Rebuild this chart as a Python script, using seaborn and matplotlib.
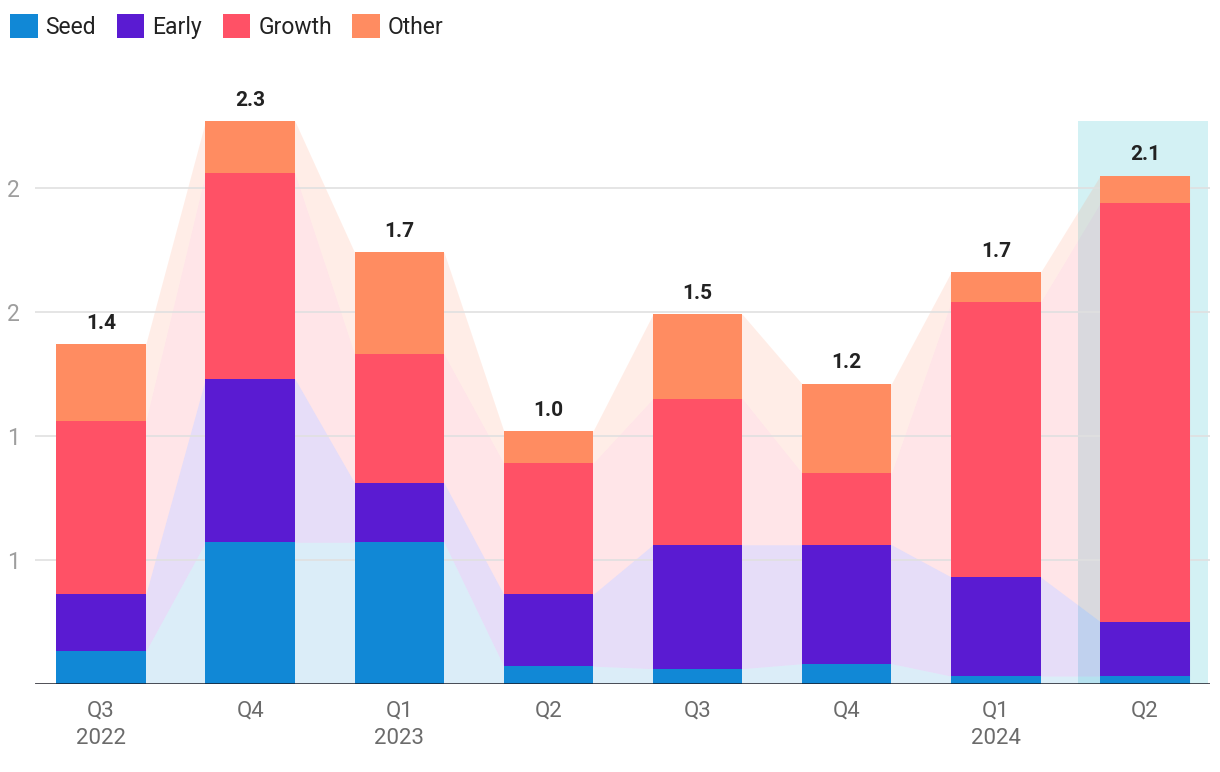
import numpy as np
import matplotlib
matplotlib.use("Agg")
import matplotlib.pyplot as plt
import seaborn as sns
from matplotlib.patches import Patch, Rectangle
from decimal import Decimal, ROUND_HALF_UP

# ---- data ----
quarters = ["Q3\n2022", "Q4", "Q1\n2023", "Q2", "Q3", "Q4", "Q1\n2024", "Q2"]
seed   = [0.13, 0.57, 0.57, 0.07, 0.06, 0.08, 0.03, 0.03]
early  = [0.23, 0.66, 0.24, 0.29, 0.50, 0.48, 0.40, 0.22]
growth = [0.70, 0.83, 0.52, 0.53, 0.59, 0.29, 1.11, 1.69]
other  = [0.31, 0.21, 0.41, 0.13, 0.34, 0.36, 0.12, 0.11]
series_names = ["Seed", "Early", "Growth", "Other"]
colors = ["#1188D6", "#5A1BD2", "#FF5166", "#FF8C61"]
y_ticks = [0.5, 1.0, 1.5, 2.0]
highlight_index = 7


def fmt(v, nd):
    q = Decimal(1).scaleb(-nd)
    return str(Decimal(str(round(v, 6))).quantize(q, rounding=ROUND_HALF_UP))


sns.set_theme(style="white")
plt.rcParams["font.family"] = ["Roboto", "DejaVu Sans"]

W, H = 1220, 772
fig = plt.figure(figsize=(W / 100, H / 100), dpi=100)
ax = fig.add_axes([35 / W, (H - 683.5) / H, 1175 / W, 607 / H])

layers = np.array([seed, early, growth, other])
cum = np.cumsum(layers, axis=0)
totals = cum[-1]
idx = np.arange(len(quarters))
bw = 0.6

# highlight band
ax.add_patch(Rectangle((highlight_index - 0.45, 0), 0.87, totals.max(),
                       facecolor="#D3F1F4", edgecolor="none", zorder=0))

# connecting stacked areas
xs = np.ravel([[i - bw / 2, i + bw / 2] for i in idx])
lower = np.zeros(len(idx))
for k in range(len(series_names)):
    ax.fill_between(xs, np.repeat(lower, 2), np.repeat(cum[k], 2),
                    color=colors[k], alpha=0.15, linewidth=0, zorder=1)
    lower = cum[k]

# stacked bars (draw cumulative heights from top layer down)
for k in range(len(series_names) - 1, -1, -1):
    sns.barplot(x=idx, y=cum[k], color=colors[k], width=bw, saturation=1,
                errorbar=None, linewidth=0, zorder=3, ax=ax)

# total labels
for i, t in zip(idx, totals):
    ax.annotate(fmt(t, 1), (i, t), xytext=(0, 11), textcoords="offset points",
                ha="center", va="baseline", fontsize=15, fontweight="bold",
                color="#222222", zorder=5)

ax.set_xlim(-0.443, 7.436)
ax.set_ylim(0, 2.45)
ax.set_yticks(y_ticks)
ax.set_yticklabels([fmt(v, 0) for v in y_ticks])
ax.set_xticks(idx)
ax.set_xticklabels(quarters, linespacing=1.45)
ax.set_xlabel("")
ax.set_ylabel("")
ax.set_axisbelow("line")
ax.grid(axis="y", color="#E0E0E0", linewidth=1.2)
ax.grid(axis="x", visible=False)
for s in ax.spines.values():
    s.set_visible(False)
ax.axhline(0, color="#1A1A24", linewidth=1.8, zorder=4)
ax.tick_params(axis="y", length=0, pad=11, labelsize=16.5, labelcolor="#9E9E9E")
ax.tick_params(axis="x", length=0, pad=12, labelsize=16, labelcolor="#6B6B6B")

handles = [Patch(facecolor=c, edgecolor="none") for c in colors]
fig.legend(handles, series_names, loc="upper left",
           bbox_to_anchor=(10 / W, 1 - 14.5 / H), ncol=4, frameon=False,
           fontsize=16.5, handlelength=1.2, handleheight=1.2,
           handletextpad=0.35, columnspacing=0.9, borderaxespad=0,
           borderpad=0, labelcolor="#222222")

fig.savefig("out.png", dpi=100)
